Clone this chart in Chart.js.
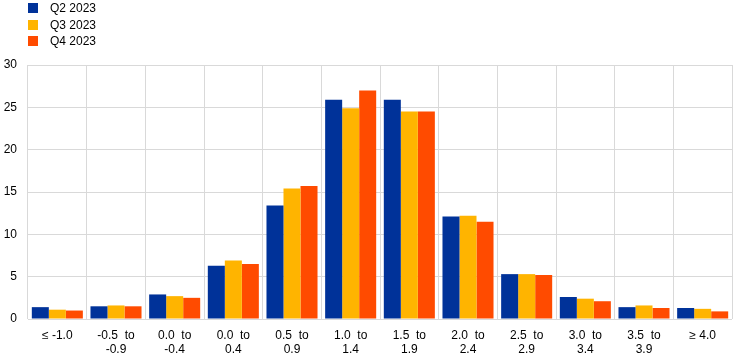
<!DOCTYPE html>
<html>
<head>
<meta charset="utf-8">
<script src="https://cdn.jsdelivr.net/npm/chart.js@4/dist/chart.umd.min.js"></script>
<style>
  html, body { margin: 0; padding: 0; background: #fff; }
  #wrap { position: relative; width: 743px; height: 361px; }
  #legend { position: absolute; left: 28px; top: 1px; font: 12px "Liberation Sans", Arial, sans-serif; color: #000; }
  #legend div { height: 16.7px; line-height: 15px; white-space: nowrap; }
  #legend span.box { display: inline-block; width: 10px; height: 10px; margin-right: 12px; vertical-align: -1px; }
</style>
</head>
<body>
<div id="wrap">
  <canvas id="chart" width="743" height="361"></canvas>
  <div id="legend"></div>
</div>
<script>
// ========== Data ==========
const categories = [
  ["\u2264 -1.0"], ["-0.5  to", "-0.9"], ["0.0  to", "-0.4"], ["0.0  to", "0.4"],
  ["0.5  to", "0.9"], ["1.0  to", "1.4"], ["1.5  to", "1.9"], ["2.0  to", "2.4"],
  ["2.5  to", "2.9"], ["3.0  to", "3.4"], ["3.5  to", "3.9"], ["\u2265 4.0"]
];
const seriesNames = ["Q2 2023", "Q3 2023", "Q4 2023"];
const q2Values = [1.4, 1.5, 2.9, 6.3, 13.4, 25.9, 25.9, 12.1, 5.3, 2.6, 1.4, 1.3];
const q3Values = [1.1, 1.6, 2.7, 6.9, 15.4, 24.9, 24.5, 12.2, 5.3, 2.4, 1.6, 1.2];
const q4Values = [1.0, 1.5, 2.5, 6.5, 15.7, 27.0, 24.5, 11.5, 5.2, 2.1, 1.3, 0.9];
const yTicks = [0, 5, 10, 15, 20, 25, 30];

const colors = ["#003299", "#ffb400", "#ff4b00"];
const allValues = [q2Values, q3Values, q4Values];

const datasets = seriesNames.map((name, i) => ({
  label: name,
  data: allValues[i],
  backgroundColor: colors[i],
  borderWidth: 0,
  categoryPercentage: 0.87,
  barPercentage: 1.0
}));

const font = { family: "'Liberation Sans', Arial, sans-serif", size: 12 };

const chart = new Chart(document.getElementById("chart"), {
  type: "bar",
  data: { labels: categories, datasets: datasets },
  options: {
    responsive: false,
    animation: false,
    layout: { padding: { top: 65, right: 11, left: 0, bottom: 0 } },
    plugins: { legend: { display: false }, tooltip: { enabled: false } },
    scales: {
      x: {
        grid: { color: "#d9d9d9", lineWidth: 1, drawTicks: false, offset: true },
        border: { display: false },
        ticks: { color: "#000", font: font, padding: 9, maxRotation: 0, autoSkip: false },
        afterFit: s => { s.height = 42; }
      },
      y: {
        min: 0, max: 30,
        grid: { color: "#d9d9d9", lineWidth: 1, drawTicks: false },
        border: { display: false },
        afterBuildTicks: s => { s.ticks = yTicks.map(v => ({ value: v })); },
        ticks: { color: "#000", font: font, padding: 11 },
        afterFit: s => { s.width = 28; }
      }
    }
  }
});

// ========== Legend (stacked, top left) ==========
const legendEl = document.getElementById("legend");
chart.data.datasets.forEach(ds => {
  const row = document.createElement("div");
  const box = document.createElement("span");
  box.className = "box";
  box.style.background = ds.backgroundColor;
  row.appendChild(box);
  row.appendChild(document.createTextNode(ds.label));
  legendEl.appendChild(row);
});
</script>
</body>
</html>
